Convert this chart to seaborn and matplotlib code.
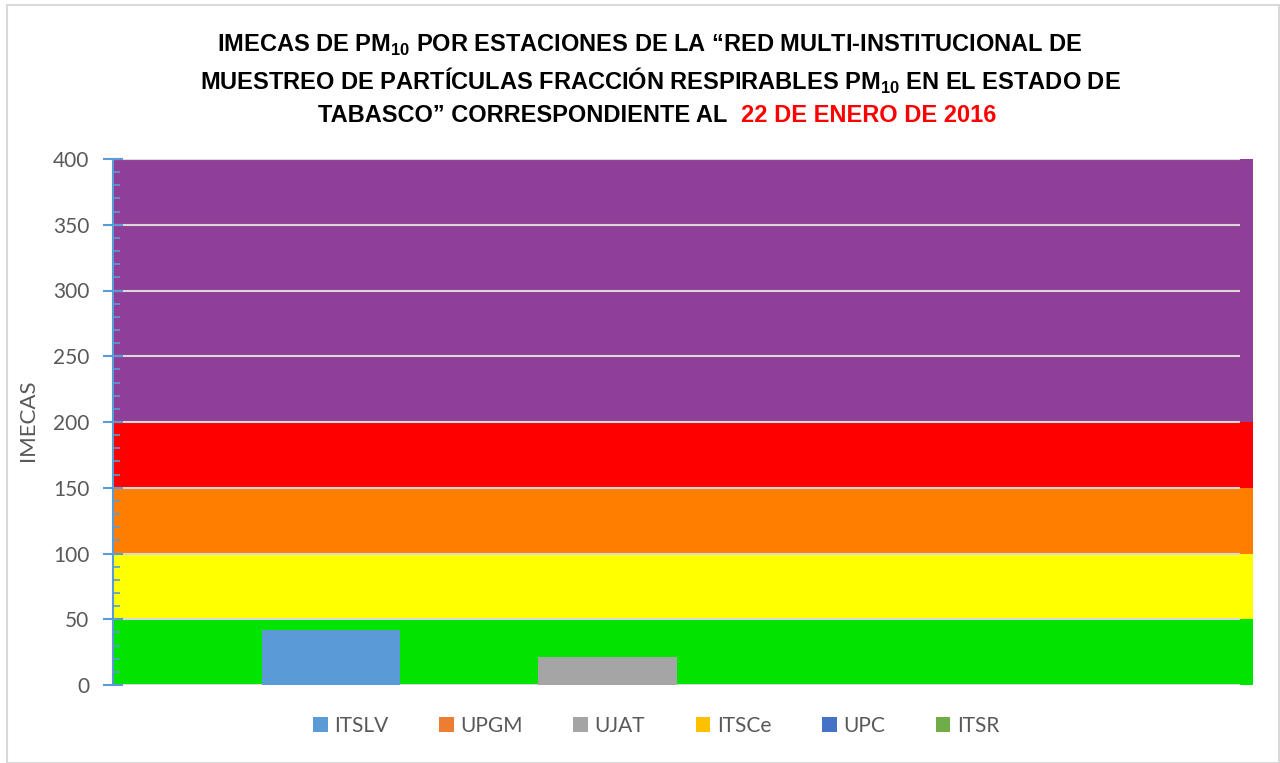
import matplotlib
matplotlib.use("Agg")
import matplotlib.pyplot as plt
import seaborn as sns
import pandas as pd
from matplotlib.patches import Rectangle
from matplotlib.ticker import MultipleLocator

# ---------------- data ----------------
stations = ["ITSLV", "UPGM", "UJAT", "ITSCe", "UPC", "ITSR"]
imecas = [42, 0, 21, 0, 0, 0]
station_colors = ["#5B9BD5", "#ED7D31", "#A5A5A5", "#FFC000", "#4472C4", "#70AD47"]
band_edges = [0, 50, 100, 150, 200, 400]
band_colors = ["#00E400", "#FFFF00", "#FF7E00", "#FF0000", "#8F3F97"]
y_ticks = [0, 50, 100, 150, 200, 250, 300, 350, 400]
title_line1 = r"IMECAS DE PM$_{\mathbf{10}}$ POR ESTACIONES DE LA “RED MULTI-INSTITUCIONAL DE"
title_line2 = r"MUESTREO DE PARTÍCULAS FRACCIÓN RESPIRABLES PM$_{\mathbf{10}}$ EN EL ESTADO DE"
title_line3a = "TABASCO” CORRESPONDIENTE AL"
title_line3b = "22 DE ENERO DE 2016"
y_label = "IMECAS"

df = pd.DataFrame({"cat": [""] * len(stations), "station": stations, "value": imecas})

sns.set_theme(style="white")
TITLE_FONT = ["Liberation Sans", "DejaVu Sans"]
BODY_FONT = ["Lato", "DejaVu Sans"]
plt.rcParams["font.family"] = BODY_FONT
plt.rcParams["mathtext.fontset"] = "custom"
plt.rcParams["mathtext.bf"] = "Liberation Sans:bold"
plt.rcParams["mathtext.rm"] = "Liberation Sans:bold"

W, H = 1280, 763
fig = plt.figure(figsize=(W / 100, H / 100), dpi=100)
AX_L, AX_R, AX_B, AX_T = 113, 1240, 685, 159
ax = fig.add_axes([AX_L / W, 1 - AX_B / H, (AX_R - AX_L) / W, (AX_B - AX_T) / H])

# chart border
fig.patches.append(Rectangle((7 / W, 0), (W - 8) / W, (H - 5) / H, transform=fig.transFigure,
                             fill=False, edgecolor="#D9D9D9", linewidth=1.5))

# colored bands
xmax_band = (1253 - AX_L) / (AX_R - AX_L)
for lo, hi, c in zip(band_edges[:-1], band_edges[1:], band_colors):
    ax.axhspan(lo, hi, xmin=0, xmax=xmax_band, color=c, zorder=0, clip_on=False, linewidth=0)

sns.barplot(data=df, x="cat", y="value", hue="station", hue_order=stations,
            palette=station_colors, width=0.735, gap=0, ax=ax, zorder=3,
            legend=False, saturation=1, linewidth=0, edgecolor="none")

ax.set_xlim(-0.5, 0.5)
ax.set_ylim(0, 400)
ax.set_yticks(y_ticks)
ax.yaxis.set_minor_locator(MultipleLocator(10))
ax.grid(axis="y", color="#D9D9D9", linewidth=1.5)
for gl in ax.get_ygridlines():
    gl.set_zorder(1)
ax.set_xticks([])
ax.set_xlabel("")
for s in ["top", "right", "bottom"]:
    ax.spines[s].set_visible(False)
ax.spines["left"].set_color("#5B9BD5")
ax.spines["left"].set_linewidth(1.5)
ax.spines["left"].set_zorder(5)
ax.tick_params(axis="y", which="major", direction="inout", length=14, width=1.5,
               color="#5B9BD5", labelsize=15, labelcolor="#595959", pad=10, left=True)
ax.tick_params(axis="y", which="minor", direction="in", length=5, width=1.2,
               color="#5B9BD5", left=True)
ax.set_ylabel(y_label, fontsize=16, color="#595959")
ax.yaxis.set_label_coords(-(AX_L - 38) / (AX_R - AX_L), (AX_B - 420) / (AX_B - AX_T))

# legend
handles = [Rectangle((0, 0), 1, 1, facecolor=c, edgecolor="none") for c in station_colors]
fig.legend(handles, stations, loc="center", bbox_to_anchor=(656 / W, 1 - 726 / H), ncol=6,
           frameon=False, fontsize=15, labelcolor="#595959", handlelength=0.7,
           handleheight=0.7, handletextpad=0.3, columnspacing=2.45)

# title
tkw = dict(fontsize=17, fontweight="bold", family=TITLE_FONT, va="center")
fig.text(650 / W, 1 - 45 / H, title_line1, color="black", ha="center", **tkw)
fig.text(660 / W, 1 - 81 / H, title_line2, color="black", ha="center", **tkw)
t1 = fig.text(0, 1 - 116 / H, title_line3a, color="black", ha="left", **tkw)
t2 = fig.text(0, 1 - 116 / H, title_line3b, color="#FF0000", ha="left", **tkw)
r = fig.canvas.get_renderer()
w1 = t1.get_window_extent(r).width
w2 = t2.get_window_extent(r).width
gap = 14
start = 657 - (w1 + gap + w2) / 2
t1.set_x(start / W)
t2.set_x((start + w1 + gap) / W)

fig.savefig("out.png", dpi=100)
